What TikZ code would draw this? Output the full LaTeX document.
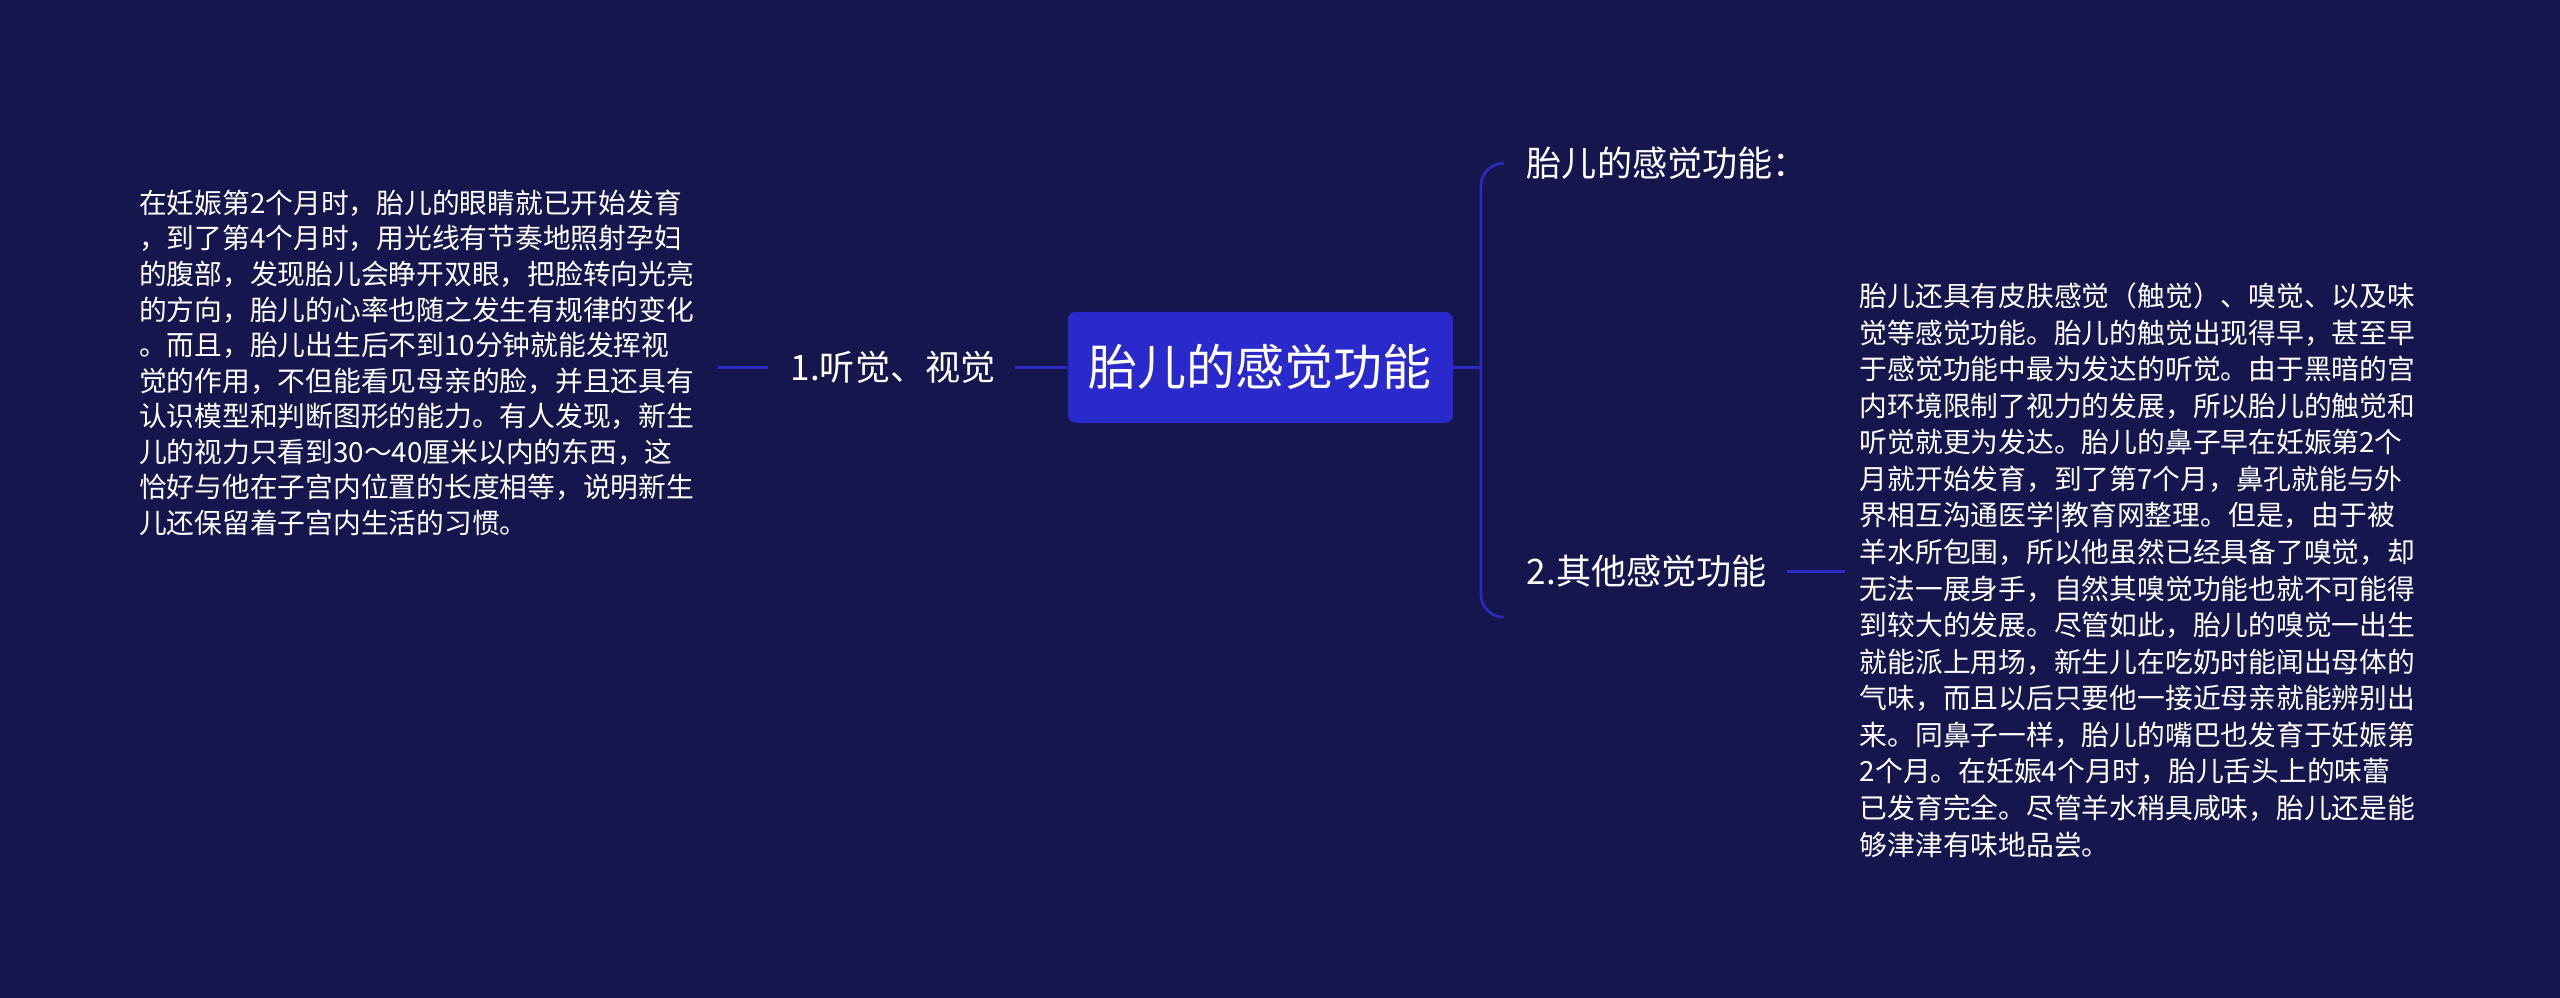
\documentclass[tikz,border=0pt]{standalone}
\usepackage{fontspec}
\setmainfont{Noto Sans CJK SC}
\begin{document}
\begin{tikzpicture}[x=1pt,y=-1pt,
  conn/.style={draw=linkc,line width=1.6pt},
  body/.style={text=white,font=\fontsize{17}{21.8}\selectfont,align=left,inner sep=0pt,anchor=north west},
  lab/.style={text=white,font=\fontsize{21.5}{24}\selectfont,inner sep=0pt}]
\definecolor{bg}{HTML}{16164F}
\definecolor{linkc}{HTML}{2B2BC4}
\definecolor{mainc}{HTML}{2A2ACC}
\fill[bg] (0,0) rectangle (1568,611);
\useasboundingbox (0,0) rectangle (1568,611);
\node[fill=mainc,rounded corners=5pt,minimum width=236pt,minimum height=68pt,text=white,font=\fontsize{30}{34}\selectfont] (root) at (772,225) {胎儿的感觉功能};
\node[lab,anchor=center] (b1) at (547,225) {1.听觉、视觉};
\node[body] (t1) at (85,116) {在妊娠第2个月时，胎儿的眼睛就已开始发育\\，到了第4个月时，用光线有节奏地照射孕妇\\的腹部，发现胎儿会睁开双眼，把脸转向光亮\\的方向，胎儿的心率也随之发生有规律的变化\\。而且，胎儿出生后不到10分钟就能发挥视\\觉的作用，不但能看见母亲的脸，并且还具有\\认识模型和判断图形的能力。有人发现，新生\\儿的视力只看到30～40厘米以内的东西，这\\恰好与他在子宫内位置的长度相等，说明新生\\儿还保留着子宫内生活的习惯。};
\node[lab,anchor=west] (b2) at (935,100) {胎儿的感觉功能：};
\node[lab,anchor=west] (b3) at (935,350) {2.其他感觉功能};
\node[body,font=\fontsize{17}{22.4}\selectfont] (t3) at (1139,173) {胎儿还具有皮肤感觉（触觉）、嗅觉、以及味\\觉等感觉功能。胎儿的触觉出现得早，甚至早\\于感觉功能中最为发达的听觉。由于黑暗的宫\\内环境限制了视力的发展，所以胎儿的触觉和\\听觉就更为发达。胎儿的鼻子早在妊娠第2个\\月就开始发育，到了第7个月，鼻孔就能与外\\界相互沟通医学|教育网整理。但是，由于被\\羊水所包围，所以他虽然已经具备了嗅觉，却\\无法一展身手，自然其嗅觉功能也就不可能得\\到较大的发展。尽管如此，胎儿的嗅觉一出生\\就能派上用场，新生儿在吃奶时能闻出母体的\\气味，而且以后只要他一接近母亲就能辨别出\\来。同鼻子一样，胎儿的嘴巴也发育于妊娠第\\2个月。在妊娠4个月时，胎儿舌头上的味蕾\\已发育完全。尽管羊水稍具咸味，胎儿还是能\\够津津有味地品尝。};
\coordinate (j) at (907,225);
\coordinate (l1) at (440,225);
\coordinate (r1) at (1130,350);
\draw[conn] (root.west) -- ++(-32,0);
\draw[conn] (b1.west) ++(-14,0) -- (l1);
\draw[conn] (root.east) -- (j);
\draw[conn] (b2.west) ++(-14,0) to[out=180,in=90] ++(-14,14) -- ([yshift=-14pt]j|-b3.west) to[out=-90,in=180] ++(14,14);
\draw[conn] (b3.east) ++(12,0) -- (r1);
\end{tikzpicture}
\end{document}
